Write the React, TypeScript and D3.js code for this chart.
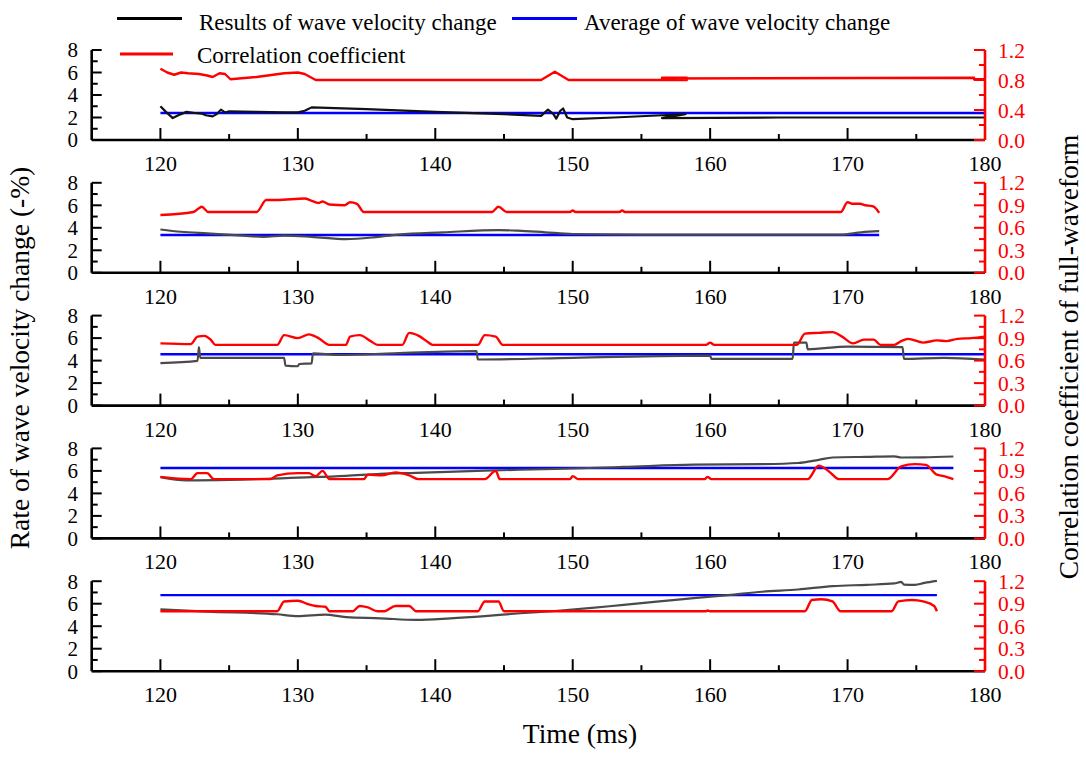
import React from "react";
import * as d3 from "d3";

type P = [number, number];

// ---------- data ----------
const timeTicks = [120, 130, 140, 150, 160, 170, 180];
const leftTicks = [0, 2, 4, 6, 8];
const rightTicksP1 = [0, 0.4, 0.8, 1.2];
const rightTicksOther = [0, 0.3, 0.6, 0.9, 1.2];

const legendLabels = [
  "Results of wave velocity change",
  "Average of wave velocity change",
  "Correlation coefficient",
];

const p1Results: P[] = [[120,3.0],[120.4,2.5],[120.9,1.95],[121.3,2.2],[121.9,2.5],[122.5,2.4],[123.0,2.35],[123.3,2.2],[123.8,2.1],[124.1,2.3],[124.4,2.7],[124.7,2.45],[125,2.55],[127,2.5],[129,2.45],[130,2.45],[130.5,2.6],[131,2.9],[135,2.75],[140,2.5],[145,2.3],[147.7,2.15],[148.2,2.7],[148.6,2.3],[148.8,1.9],[149.1,2.6],[149.3,2.8],[149.6,2.0],[150,1.85],[153,2.0],[156.5,2.2],[158.2,2.3],[156.5,1.95],[165,2.0],[180,2.0]];
const p1Average: P[] = [[120,2.4],[180,2.4]];
const p1Corr: P[] = [[120,0.95],[120.5,0.9],[121,0.87],[121.5,0.9],[122,0.89],[122.8,0.88],[123.4,0.86],[123.8,0.84],[124.3,0.89],[124.7,0.88],[125.1,0.81],[127,0.84],[129,0.89],[130,0.9],[130.5,0.88],[131.3,0.8],[147.7,0.8],[148.7,0.91],[149.7,0.8],[156.5,0.8],[158.3,0.8],[158.3,0.83],[156.5,0.83],[156.5,0.82],[179.2,0.83],[179.2,0.81],[180,0.81]];

const p2Results: P[] = [[120,3.85],[121.5,3.65],[123.4,3.5],[126,3.3],[127.5,3.2],[129,3.3],[131,3.2],[133.5,3.0],[135.5,3.15],[137.3,3.4],[140.6,3.6],[144.6,3.8],[146,3.75],[148,3.6],[150,3.45],[155,3.4],[169.5,3.4],[171,3.6],[172.3,3.7]];
const p2Average: P[] = [[120,3.36],[172.3,3.36]];
const p2Corr: P[] = [[120,0.77],[122.4,0.81],[122.8,0.86],[123,0.88],[123.5,0.81],[127,0.81],[127.7,0.97],[128.5,0.97],[130.5,0.99],[131,0.96],[131.5,0.93],[131.8,0.95],[132.3,0.91],[133.4,0.9],[133.8,0.94],[134.3,0.92],[134.8,0.81],[144.1,0.81],[144.6,0.88],[145.2,0.81],[149.8,0.81],[150,0.83],[150.2,0.81],[153.4,0.81],[153.6,0.83],[153.8,0.81],[169.5,0.81],[170,0.94],[170.4,0.92],[170.9,0.92],[171.3,0.9],[171.8,0.89],[172,0.87],[172.3,0.8]];

const p3Results: P[] = [[120,3.78],[122.7,3.98],[122.8,5.2],[122.9,4.25],[129,4.25],[129.1,3.55],[130,3.5],[130.1,3.7],[131,3.75],[131.1,4.65],[133,4.5],[137,4.65],[143,4.85],[143.1,4.1],[150,4.25],[160,4.45],[160.1,4.15],[166,4.15],[166.1,5.6],[167,5.6],[167.1,5.0],[170,5.25],[174,5.2],[174.1,4.15],[177,4.25],[180,4.1]];
const p3Average: P[] = [[120,4.57],[180,4.57]];
const p3Corr: P[] = [[120,0.83],[122.2,0.82],[122.7,0.92],[123.2,0.93],[123.7,0.87],[124,0.81],[128.5,0.81],[129,0.94],[130,0.9],[130.8,0.95],[131.5,0.9],[132.3,0.81],[133.5,0.81],[133.8,0.92],[134.5,0.94],[135.3,0.86],[135.8,0.81],[137.6,0.81],[138.1,0.97],[138.8,0.93],[139.6,0.83],[139.8,0.81],[143.1,0.81],[143.6,0.94],[144.4,0.92],[144.9,0.81],[159.7,0.81],[160,0.84],[160.3,0.81],[166.3,0.81],[166.9,0.96],[167.9,0.97],[168.9,0.98],[169.6,0.92],[170.4,0.83],[171.2,0.88],[171.9,0.88],[172.4,0.81],[173.4,0.81],[173.9,0.86],[174.4,0.89],[175.5,0.84],[176.5,0.87],[177.2,0.86],[178,0.89],[179,0.9],[180,0.92]];

const p4Results: P[] = [[120,5.45],[121.9,5.16],[125,5.2],[130,5.4],[133.5,5.56],[136,5.74],[138.6,5.83],[143.6,6.03],[148.7,6.17],[153.7,6.35],[158.8,6.55],[163.8,6.6],[166.4,6.7],[167.9,6.98],[168.9,7.19],[171.4,7.25],[173.4,7.3],[173.9,7.19],[175.5,7.2],[177.7,7.28]];
const p4Average: P[] = [[120,6.26],[177.7,6.26]];
const p4Corr: P[] = [[120,0.82],[122.2,0.79],[122.7,0.87],[123.4,0.87],[123.9,0.79],[128,0.79],[128.5,0.84],[130,0.87],[130.8,0.87],[131.3,0.83],[131.8,0.9],[132.3,0.79],[134.8,0.79],[135.1,0.85],[136.1,0.84],[137.1,0.88],[138.1,0.84],[138.8,0.79],[143.6,0.79],[144.4,0.9],[144.7,0.79],[149.8,0.79],[150,0.83],[150.4,0.79],[159.6,0.79],[159.8,0.82],[160.1,0.79],[167.1,0.79],[167.9,0.97],[168.6,0.9],[169.4,0.79],[172.9,0.79],[173.9,0.96],[174.9,0.99],[175.7,0.98],[176.5,0.85],[177,0.83],[177.7,0.79]];

const p5Results: P[] = [[120,5.5],[123.4,5.3],[128.5,5.06],[130,4.9],[132,5.03],[133.5,4.8],[136,4.7],[138.6,4.56],[141.1,4.7],[143.6,4.9],[146.2,5.15],[148.7,5.35],[151.2,5.6],[153.7,5.9],[156.3,6.2],[158.8,6.5],[161.3,6.76],[163.8,7.06],[166.4,7.26],[168.9,7.56],[171.4,7.68],[173.4,7.8],[173.9,7.94],[174.1,7.7],[174.9,7.68],[175.6,7.85],[176.5,8.03]];
const p5Average: P[] = [[120,6.76],[176.5,6.76]];
const p5Corr: P[] = [[120,0.8],[128.5,0.8],[129,0.93],[130,0.94],[130.8,0.89],[131.3,0.87],[132,0.86],[132.3,0.8],[134,0.8],[134.5,0.87],[135.1,0.85],[135.8,0.8],[136.3,0.8],[137.1,0.87],[138.1,0.87],[138.6,0.8],[143.1,0.8],[143.6,0.93],[144.6,0.93],[145,0.8],[159.7,0.8],[159.8,0.81],[160,0.8],[166.9,0.8],[167.4,0.95],[168.1,0.96],[168.9,0.93],[169.5,0.8],[173.2,0.8],[173.7,0.93],[174.7,0.95],[175.5,0.93],[176.3,0.87],[176.5,0.8]];

const panels = [
  { results: p1Results, average: p1Average, corr: p1Corr, rTicks: rightTicksP1, rMinor: 0.2, resColor: "#111", smooth: false },
  { results: p2Results, average: p2Average, corr: p2Corr, rTicks: rightTicksOther, rMinor: 0.15, resColor: "#4a4a4a", smooth: true },
  { results: p3Results, average: p3Average, corr: p3Corr, rTicks: rightTicksOther, rMinor: 0.15, resColor: "#4a4a4a", smooth: true },
  { results: p4Results, average: p4Average, corr: p4Corr, rTicks: rightTicksOther, rMinor: 0.15, resColor: "#4a4a4a", smooth: true },
  { results: p5Results, average: p5Average, corr: p5Corr, rTicks: rightTicksOther, rMinor: 0.15, resColor: "#4a4a4a", smooth: true },
];

// ---------- layout ----------
const W = 1086, H = 758;
const X0 = 91.7, X1 = 985;
const PANEL_TOP0 = 50, PANEL_STEP = 132.8, PANEL_H = 90;
const FONT = "'Liberation Serif', 'Times New Roman', serif";
const RED = "#ff0000", BLUE = "#0000ff";

const x = d3.scaleLinear().domain([115, 180]).range([X0, X1]);

function Panel({ idx }: { idx: number }) {
  const p = panels[idx];
  const top = PANEL_TOP0 + idx * PANEL_STEP;
  const bottom = top + PANEL_H;
  const yL = d3.scaleLinear().domain([0, 8]).range([bottom, top]);
  const yR = d3.scaleLinear().domain([0, 1.2]).range([bottom, top]);
  const curve = p.smooth ? d3.curveMonotoneX : d3.curveLinear;
  const lineL = d3.line<P>().x(d => x(d[0])).y(d => yL(d[1])).curve(curve);
  const lineR = d3.line<P>().x(d => x(d[0])).y(d => yR(d[1])).curve(curve);
  const leftMinor = d3.range(1, 8, 2);
  const rMinor: number[] = [];
  for (let v = p.rMinor; v < 1.2; v += p.rMinor * 2) rMinor.push(+v.toFixed(3));
  const xMinor = d3.range(125, 180, 10);
  return (
    <g>
      {/* data */}
      <path d={lineL(p.average) || ""} fill="none" stroke={BLUE} strokeWidth={2.4} />
      <path d={lineL(p.results) || ""} fill="none" stroke={p.resColor} strokeWidth={2.2} strokeLinejoin="round" />
      <path d={lineR(p.corr) || ""} fill="none" stroke={RED} strokeWidth={2.4} strokeLinejoin="round" />
      {/* x axis */}
      <line x1={X0} x2={X1} y1={bottom} y2={bottom} stroke="#000" strokeWidth={2.6} />
      {timeTicks.map(t => (
        <g key={"xt" + t}>
          <line x1={x(t)} x2={x(t)} y1={bottom} y2={bottom - 12} stroke="#000" strokeWidth={2} />
          <text x={x(t)} y={bottom + 31} textAnchor="middle" fontSize={22} fontFamily={FONT} fill="#000">{t}</text>
        </g>
      ))}
      {xMinor.map(t => (
        <line key={"xm" + t} x1={x(t)} x2={x(t)} y1={bottom} y2={bottom - 6} stroke="#000" strokeWidth={2} />
      ))}
      {/* left axis */}
      <line x1={X0} x2={X0} y1={top} y2={bottom} stroke="#000" strokeWidth={2.6} />
      {leftTicks.map(v => (
        <g key={"lt" + v}>
          <line x1={X0} x2={X0 + 10} y1={yL(v)} y2={yL(v)} stroke="#000" strokeWidth={2} />
          <text x={78} y={yL(v)} dy="0.35em" textAnchor="end" fontSize={21} fontFamily={FONT} fill="#000">{v}</text>
        </g>
      ))}
      {leftMinor.map(v => (
        <line key={"lm" + v} x1={X0} x2={X0 + 6} y1={yL(v)} y2={yL(v)} stroke="#000" strokeWidth={2} />
      ))}
      {/* right axis */}
      <line x1={X1} x2={X1} y1={top} y2={bottom} stroke={RED} strokeWidth={2.6} />
      {p.rTicks.map(v => (
        <g key={"rt" + v}>
          <line x1={X1} x2={X1 - 11} y1={yR(v)} y2={yR(v)} stroke={RED} strokeWidth={2} />
          <text x={998} y={yR(v)} dy="0.35em" textAnchor="start" fontSize={21.5} fontFamily={FONT} fill={RED}>{v.toFixed(1)}</text>
        </g>
      ))}
      {rMinor.map(v => (
        <line key={"rm" + v} x1={X1} x2={X1 - 6} y1={yR(v)} y2={yR(v)} stroke={RED} strokeWidth={2} />
      ))}
    </g>
  );
}

export default function App() {
  return (
    <div style={{ position: "absolute", left: 0, top: 0 }}>
      <svg width={W} height={H} viewBox={`0 0 ${W} ${H}`} style={{ display: "block", background: "#fff" }}>
        <rect width={W} height={H} fill="#fff" />
        {panels.map((_, i) => <Panel key={i} idx={i} />)}
        {/* legend */}
        <line x1={117} x2={182} y1={18.5} y2={18.5} stroke="#000" strokeWidth={3} />
        <text x={199} y={30} fontSize={23} fontFamily={FONT} fill="#000">{legendLabels[0]}</text>
        <line x1={512} x2={577} y1={18.5} y2={18.5} stroke={BLUE} strokeWidth={3} />
        <text x={584} y={30} fontSize={23} fontFamily={FONT} fill="#000">{legendLabels[1]}</text>
        <line x1={120} x2={173} y1={54} y2={54} stroke={RED} strokeWidth={3} />
        <text x={197} y={63} fontSize={23} fontFamily={FONT} fill="#000">{legendLabels[2]}</text>
        {/* axis titles */}
        <text x={580} y={743} textAnchor="middle" fontSize={27.5} fontFamily={FONT} fill="#000">Time (ms)</text>
        <text transform="translate(29,358) rotate(-90)" textAnchor="middle" fontSize={27.5} fontFamily={FONT} fill="#000">Rate of wave velocity change (-%)</text>
        <text transform="translate(1078,357) rotate(-90)" textAnchor="middle" fontSize={27.5} fontFamily={FONT} fill="#000">Correlation coefficient of full-waveform</text>
      </svg>
    </div>
  );
}
